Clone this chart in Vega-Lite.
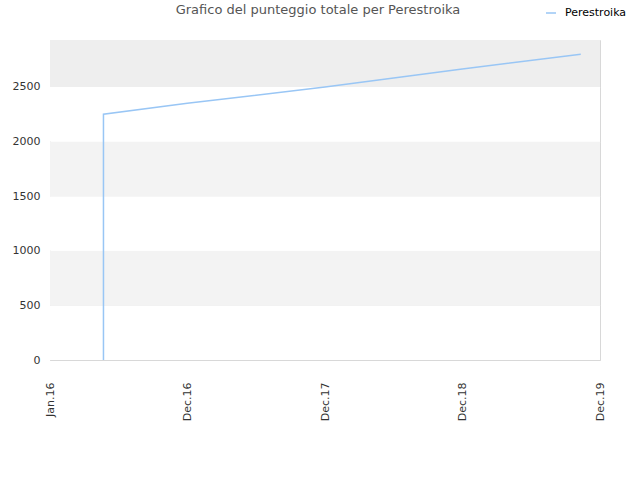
{
  "$schema": "https://vega.github.io/schema/vega-lite/v6.json",
  "width": 550,
  "height": 320,
  "autosize": {"type": "none"},
  "padding": {"left": 50, "top": 40, "right": 40, "bottom": 120},
  "background": "white",
  "config": {
    "font": "DejaVu Sans",
    "view": {"stroke": "#d8d8d8"}
  },
  "title": {
    "text": "Grafico del punteggio totale per Perestroika",
    "fontSize": 13,
    "fontWeight": "normal",
    "color": "#555555",
    "anchor": "middle",
    "dx": -7,
    "offset": -10
  },
  "datasets": {
    "bands": [
      {"lo": 0, "hi": 500, "band": "a"},
      {"lo": 500, "hi": 1000, "band": "b"},
      {"lo": 1000, "hi": 1500, "band": "a"},
      {"lo": 1500, "hi": 2000, "band": "b"},
      {"lo": 2000, "hi": 2500, "band": "a"},
      {"lo": 2500, "hi": 2930, "band": "c"}
    ],
    "scores": [
      {"n": 1, "date": "2016-05-19", "score": 0, "series": "Perestroika"},
      {"n": 2, "date": "2016-05-19", "score": 2250, "series": "Perestroika"},
      {"n": 3, "date": "2016-12-23", "score": 2350, "series": "Perestroika"},
      {"n": 4, "date": "2017-12-16", "score": 2500, "series": "Perestroika"},
      {"n": 5, "date": "2018-12-08", "score": 2665, "series": "Perestroika"},
      {"n": 6, "date": "2019-10-12", "score": 2800, "series": "Perestroika"}
    ]
  },
  "layer": [
    {
      "data": {"name": "bands"},
      "mark": {"type": "rect"},
      "encoding": {
        "y": {"field": "lo", "type": "quantitative", "scale": {"domain": [0, 2930], "nice": false}},
        "y2": {"field": "hi"},
        "fill": {
          "field": "band",
          "type": "nominal",
          "scale": {"domain": ["a", "b", "c"], "range": ["#ffffff", "#f3f3f3", "#eeeeee"]},
          "legend": null
        }
      }
    },
    {
      "data": {"name": "scores"},
      "mark": {"type": "line", "strokeWidth": 1.5, "interpolate": "linear"},
      "encoding": {
        "x": {
          "field": "date",
          "type": "temporal",
          "scale": {"domain": ["2016-01-01", "2019-12-01"]},
          "axis": {
            "title": null,
            "values": ["2016-01-01", "2016-12-23", "2017-12-16", "2018-12-08", "2019-12-01"],
            "format": "%b.%y",
            "labelAngle": -90,
            "labelAlign": "right",
            "labelBaseline": "middle",
            "labelPadding": 22,
            "labelFontSize": 11,
            "labelColor": "#333333",
            "ticks": false,
            "grid": false,
            "domainColor": "#d8d8d8"
          }
        },
        "y": {
          "field": "score",
          "type": "quantitative",
          "scale": {"domain": [0, 2930], "nice": false},
          "axis": {
            "title": null,
            "values": [0, 500, 1000, 1500, 2000, 2500],
            "format": "d",
            "labelFontSize": 11,
            "labelColor": "#333333",
            "labelPadding": 10,
            "ticks": false,
            "grid": true,
            "gridColor": "#e0e0e0",
            "domainColor": "#d8d8d8"
          }
        },
        "order": {"field": "n", "type": "quantitative"},
        "color": {
          "field": "series",
          "type": "nominal",
          "scale": {"range": ["#99c6f5"]},
          "legend": {
            "title": null,
            "orient": "none",
            "legendX": 495,
            "legendY": -33,
            "symbolType": "stroke",
            "symbolStrokeWidth": 1.5,
            "symbolSize": 100,
            "labelOffset": 8,
            "labelFontSize": 11,
            "labelColor": "#000000"
          }
        }
      }
    }
  ]
}
